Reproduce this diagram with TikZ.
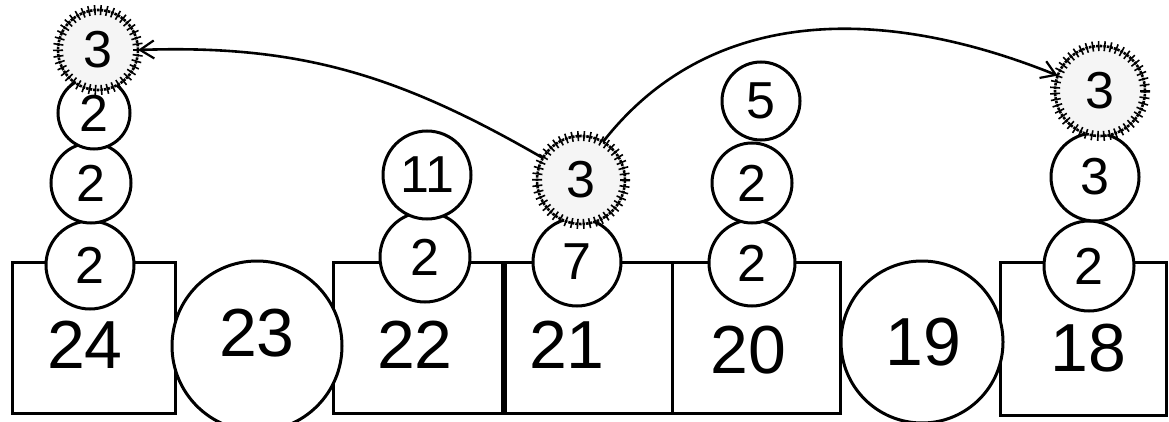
\documentclass[tikz,border=0pt]{standalone}
\usepackage{fontspec}
\setmainfont{Liberation Sans}
\usetikzlibrary{arrows.meta,decorations.pathreplacing}
\tikzset{
  boxst/.style={draw, line width=3pt, fill=white, inner sep=0pt, outer sep=0pt},
  ball/.style={circle, draw, line width=3pt, fill=white, inner sep=0pt, outer sep=0pt,
    font=\fontsize{52}{52}\selectfont},
  bigball/.style={circle, draw, line width=3pt, fill=white, inner sep=0pt, outer sep=0pt},
  fuzzy/.style={circle, draw, line width=2.6pt, densely dotted, fill=black!4, inner sep=0pt, outer sep=0pt,
    font=\fontsize{52}{52}\selectfont,
    postaction={draw, solid, line width=1.6pt, decorate, decoration={ticks, segment length=6pt, amplitude=5pt}}},
  biglabel/.style={font=\fontsize{68}{68}\selectfont, inner sep=0pt},
  arr/.style={line width=2.6pt, -{Straight Barb[length=14pt,width=18pt,line width=2.2pt]}}
}
\begin{document}
\begin{tikzpicture}[x=1pt,y=-1pt]
\useasboundingbox (0,0) rectangle (1169,422);
\clip (0,0) rectangle (1169,422);
\fill[white] (0,0) rectangle (1169,422);
% boxes
\node[boxst, minimum width=163pt, minimum height=151pt] (b24) at (93.5,337.5) {};
\node[boxst, minimum width=169pt, minimum height=151pt] (b22) at (417.5,337.5) {};
\node[boxst, minimum width=167pt, minimum height=151pt] (b21) at (588.5,337.5) {};
\node[boxst, minimum width=168pt, minimum height=151pt] (b20) at (756,337.5) {};
\node[boxst, minimum width=166pt, minimum height=153pt] (b18) at (1083,338.5) {};
% big circles
\node[bigball, minimum size=170pt] (c23) at (257,346) {};
\node[bigball, minimum size=162pt] (c19) at (922,342) {};
% labels
\node[biglabel] (l24) at (85,345) {24};
\node[biglabel] (l23) at (257,333) {23};
\node[biglabel] (l22) at (415,345) {22};
\node[biglabel] (l21) at (567,345) {21};
\node[biglabel] (l20) at (748,350) {20};
\node[biglabel] (l19) at (923,342) {19};
\node[biglabel] (l18) at (1088,348) {18};
% stack on 24
\node[ball, minimum size=88pt] (c24a) at (90,265) {2};
\node[ball, minimum size=80pt] (c24b) at (91,183) {2};
\node[ball, minimum size=72pt] (c24c) at (94,113) {2};
\node[fuzzy, minimum size=80pt] (c24d) at (98,50) {3};
% stack on 22
\node[ball, minimum size=90pt] (c22a) at (425,257) {2};
\node[ball, minimum size=88pt] (c22b) at (427,175) {11};
% stack on 21
\node[ball, minimum size=88pt] (c21a) at (577,262) {7};
\node[fuzzy, minimum size=88pt] (c21b) at (581,180) {3};
% stack on 20
\node[ball, minimum size=86pt] (c20a) at (752,263) {2};
\node[ball, minimum size=80pt] (c20b) at (752,183) {2};
\node[ball, minimum size=78pt] (c20c) at (761,101) {5};
% stack on 18
\node[ball, minimum size=90pt] (c18a) at (1089,266) {2};
\node[ball, minimum size=88pt] (c18b) at (1095,177) {3};
\node[fuzzy, minimum size=90pt] (c18c) at (1100,91) {3};
% arrows
\draw[arr] (c21b.150) to[out=150, in=2] (c24d.east);
\draw[arr] (c21b.60) to[out=52, in=158] (c18c.160);
\end{tikzpicture}
\end{document}
